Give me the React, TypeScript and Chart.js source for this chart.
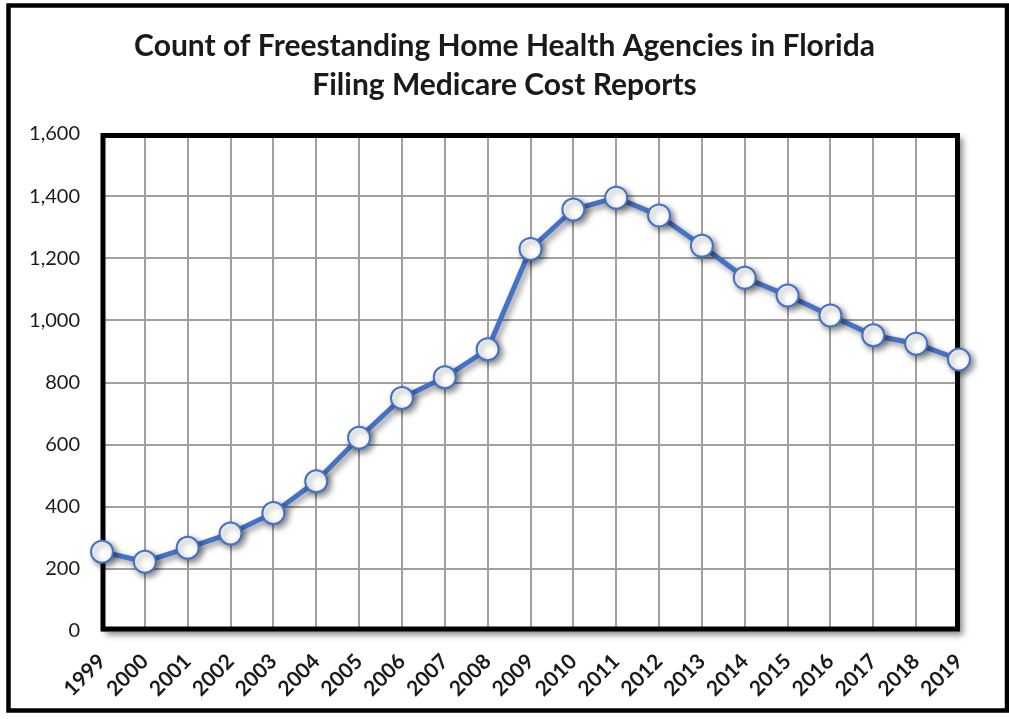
import React, { useEffect, useRef } from "react";
import { Chart, registerables } from "chart.js";

Chart.register(...registerables);

const titleLines = [
  "Count of Freestanding Home Health Agencies in Florida",
  "Filing Medicare Cost Reports",
];
const years = [
  "1999", "2000", "2001", "2002", "2003", "2004", "2005", "2006", "2007", "2008",
  "2009", "2010", "2011", "2012", "2013", "2014", "2015", "2016", "2017", "2018", "2019",
];
const agencyCounts = [
  255, 223, 268, 314, 380, 482, 622, 750, 817, 907,
  1230, 1357, 1395, 1338, 1240, 1137, 1080, 1016, 952, 925, 874,
];
const yMin = 0;
const yMax = 1600;
const yStep = 200;

const framePlugin = {
  id: "framePlugin",
  beforeDraw(chart: any) {
    const { ctx, chartArea } = chart;
    const { left, top, right, bottom } = chartArea;
    ctx.save();
    ctx.fillStyle = "#ffffff";
    ctx.shadowColor = "rgba(0,0,0,0.45)";
    ctx.shadowBlur = 6;
    ctx.shadowOffsetX = 4;
    ctx.shadowOffsetY = 4;
    ctx.fillRect(left, top, right - left, bottom - top);
    ctx.restore();
    ctx.save();
    ctx.strokeStyle = "#000000";
    ctx.lineWidth = 4.5;
    ctx.strokeRect(8.5, 5.5, 998.5, 705);
    ctx.restore();
  },
  beforeDatasetsDraw(chart: any) {
    const { ctx, chartArea } = chart;
    const { left, top, right, bottom } = chartArea;
    ctx.save();
    ctx.strokeStyle = "#000000";
    ctx.lineWidth = 5;
    ctx.strokeRect(left + 1, top + 1.5, right - left - 2.5, bottom - top - 3.5);
    ctx.restore();
    ctx.save();
    ctx.shadowColor = "rgba(0,0,0,0.45)";
    ctx.shadowBlur = 6;
    ctx.shadowOffsetX = 3;
    ctx.shadowOffsetY = 3;
  },
  afterDatasetsDraw(chart: any) {
    chart.ctx.restore();
  },
};

export default function App() {
  const canvasRef = useRef<HTMLCanvasElement | null>(null);

  useEffect(() => {
    if (!canvasRef.current) return;
    const chart = new Chart(canvasRef.current, {
      type: "line",
      data: {
        labels: years,
        datasets: [
          {
            label: "Agencies",
            data: agencyCounts,
            borderColor: "#4472C4",
            borderWidth: 5,
            pointRadius: 11,
            pointHoverRadius: 11,
            pointBackgroundColor: "#ffffff",
            pointBorderColor: "#4472C4",
            pointBorderWidth: 2,
            tension: 0,
            clip: false as any,
          },
        ],
      },
      options: {
        responsive: false,
        animation: false,
        layout: {
          autoPadding: false,
          padding: { top: 0, left: 0, right: 0, bottom: 0 },
        },
        plugins: {
          legend: { display: false },
          tooltip: { enabled: false },
          title: {
            display: true,
            text: titleLines,
            color: "#1a1a1a",
            font: { family: "Lato", size: 30, weight: "bold", lineHeight: 1.3 },
            padding: { top: 27, bottom: 29 },
          },
        },
        scales: {
          x: {
            grid: { color: "#a0a0a0", lineWidth: 2, drawTicks: false },
            border: { display: false },
            ticks: {
              color: "#1a1a1a",
              font: { family: "Lato", size: 21, weight: "bold" },
              minRotation: 45,
              maxRotation: 45,
              padding: 18,
              autoSkip: false,
            },
            afterFit: (scale: any) => {
              scale.height = 88;
            },
          },
          y: {
            min: yMin,
            max: yMax,
            grid: { color: "#a0a0a0", lineWidth: 2, drawTicks: false },
            border: { display: false },
            ticks: {
              stepSize: yStep,
              color: "#1a1a1a",
              font: { family: "Lato", size: 20 },
              padding: 22,
            },
            afterFit: (scale: any) => {
              scale.width = 102;
            },
          },
          yRight: {
            position: "right",
            display: true,
            min: yMin,
            max: yMax,
            grid: { display: false },
            border: { display: false },
            ticks: { display: false },
            afterFit: (scale: any) => {
              scale.width = 50;
            },
          },
        },
      },
      plugins: [framePlugin],
    });
    return () => chart.destroy();
  }, []);

  return (
    <div style={{ position: "absolute", left: 0, top: 0, width: 1009, height: 719, background: "#fff" }}>
      <canvas ref={canvasRef} width={1009} height={719} style={{ display: "block" }} />
    </div>
  );
}
